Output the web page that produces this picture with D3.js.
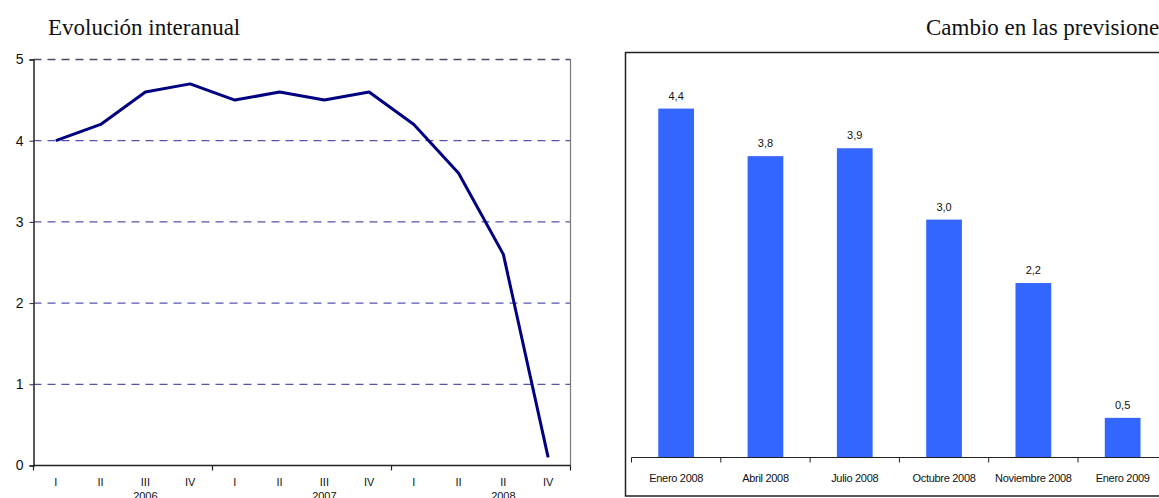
<!DOCTYPE html>
<html>
<head>
<meta charset="utf-8">
<script src="https://cdn.jsdelivr.net/npm/d3@7"></script>
<style>
  html, body { margin: 0; padding: 0; background: #fff; overflow: hidden; }
  svg { display: block; }
  .title { font-family: "Liberation Serif", "DejaVu Serif", serif; font-size: 23px; fill: #111; }
  .tick text { font-family: "Liberation Sans", Arial, sans-serif; }
</style>
</head>
<body>
<svg id="chart" width="1159" height="498"></svg>
<script>
// Year-on-year growth by quarter
const quarters = ["I", "II", "III", "IV", "I", "II", "III", "IV", "I", "II", "II", "IV"];
const years = ["2006", "2007", "2008"];
const growth = [4.0, 4.2, 4.6, 4.7, 4.5, 4.6, 4.5, 4.6, 4.2, 3.6, 2.6, 0.1];
const growthTicks = [0, 1, 2, 3, 4, 5];

// Forecast revisions
const forecastDates = ["Enero 2008", "Abril 2008", "Julio 2008", "Octubre 2008", "Noviembre 2008", "Enero 2009"];
const forecastValues = [4.4, 3.8, 3.9, 3.0, 2.2, 0.5];

const svg = d3.select("#chart");
const fmt = v => d3.format(".1f")(v).replace(".", ",");

// ---------- Left panel: line chart ----------
const L = { left: 33.5, right: 570.5, top: 59.5, bottom: 465.5 };
const xL = d3.scaleBand().domain(d3.range(quarters.length)).range([L.left, L.right]);
const yL = d3.scaleLinear().domain([0, 5]).range([L.bottom, L.top]);

svg.append("text").attr("class", "title").attr("x", 48).attr("y", 35).text("Evolución interanual");

const gL = svg.append("g");

// horizontal dashed gridlines
gL.selectAll("line.grid").data(growthTicks.filter(t => t > 0)).join("line")
  .attr("class", "grid")
  .attr("x1", L.left).attr("x2", L.right)
  .attr("y1", d => yL(d)).attr("y2", d => yL(d))
  .attr("stroke", d => d === 5 ? "#4a4a6a" : "#2a2a9a")
  .attr("stroke-width", d => d === 5 ? 1.5 : 1)
  .attr("stroke-dasharray", "8,6");

// right border
gL.append("line")
  .attr("x1", L.right).attr("x2", L.right)
  .attr("y1", L.top).attr("y2", L.bottom)
  .attr("stroke", "#777").attr("stroke-width", 1.2);

// y axis
const yAxisL = d3.axisLeft(yL).tickValues(growthTicks).tickSize(4).tickPadding(6).tickFormat(d3.format("d"));
gL.append("g").attr("transform", `translate(${L.left},0)`).call(yAxisL)
  .call(g => g.select(".domain").attr("stroke", "#222").attr("stroke-width", 1.5))
  .call(g => g.selectAll(".tick line").attr("stroke", "#222"))
  .call(g => g.selectAll(".tick text").attr("font-size", 14).attr("fill", "#111"));

// x axis: quarter labels, ticks at year boundaries
const xAxisG = gL.append("g").attr("transform", `translate(0,${L.bottom})`);
xAxisG.append("line").attr("x1", L.left).attr("x2", L.right).attr("y1", 0).attr("y2", 0)
  .attr("stroke", "#222").attr("stroke-width", 1.5);
const boundaries = d3.range(0, quarters.length + 1, 4).map(i => i < quarters.length ? xL(i) : L.right);
xAxisG.selectAll("line.yt").data(boundaries).join("line")
  .attr("class", "yt").attr("x1", d => d).attr("x2", d => d).attr("y1", 0).attr("y2", 5)
  .attr("stroke", "#222").attr("stroke-width", 1.2);
xAxisG.selectAll("text.q").data(quarters).join("text")
  .attr("class", "q")
  .attr("x", (d, i) => xL(i) + xL.bandwidth() / 2)
  .attr("y", 20)
  .attr("text-anchor", "middle")
  .attr("font-family", "Liberation Sans, Arial, sans-serif")
  .attr("font-size", 11).attr("fill", "#111")
  .text(d => d);
xAxisG.selectAll("text.yr").data(years).join("text")
  .attr("class", "yr")
  .attr("x", (d, i) => xL(i * 4 + 2) + xL.bandwidth() / 2)
  .attr("y", 34)
  .attr("text-anchor", "middle")
  .attr("font-family", "Liberation Sans, Arial, sans-serif")
  .attr("font-size", 11).attr("fill", "#111")
  .text(d => d);

// the growth line
const line = d3.line().x((d, i) => xL(i) + xL.bandwidth() / 2).y(d => yL(d));
gL.append("path").datum(growth)
  .attr("d", line)
  .attr("fill", "none")
  .attr("stroke", "#000080")
  .attr("stroke-width", 3)
  .attr("stroke-linejoin", "round");

// ---------- Right panel: bar chart ----------
const R = { boxLeft: 625.5, boxTop: 52.5, boxBottom: 496, axisLeft: 631.5, bandW: 89.3, base: 457.5 };
const xR = d3.scaleBand().domain(forecastDates)
  .range([R.axisLeft, R.axisLeft + R.bandW * forecastDates.length]).paddingInner(0.6).paddingOuter(0.3);
const yR = d3.scaleLinear().domain([0, 5]).range([R.base, R.base - 5 * 79.3]);

svg.append("text").attr("class", "title").attr("x", 926).attr("y", 35).text("Cambio en las previsiones");

const gR = svg.append("g");
// frame
gR.append("rect")
  .attr("x", R.boxLeft).attr("y", R.boxTop)
  .attr("width", 1200).attr("height", R.boxBottom - R.boxTop)
  .attr("fill", "none").attr("stroke", "#222").attr("stroke-width", 1.5);

// bars
gR.selectAll("rect.bar").data(forecastValues).join("rect")
  .attr("class", "bar")
  .attr("x", (d, i) => xR(forecastDates[i]))
  .attr("width", xR.bandwidth())
  .attr("y", d => yR(d))
  .attr("height", d => yR(0) - yR(d))
  .attr("fill", "#3366FF");

// value labels
gR.selectAll("text.val").data(forecastValues).join("text")
  .attr("class", "val")
  .attr("x", (d, i) => xR(forecastDates[i]) + xR.bandwidth() / 2)
  .attr("y", d => yR(d) - 9)
  .attr("text-anchor", "middle")
  .attr("font-family", "Liberation Sans, Arial, sans-serif")
  .attr("font-size", 11).attr("fill", "#111")
  .text(d => fmt(d));

// category axis
const xAxisR = gR.append("g").attr("transform", `translate(0,${R.base})`);
xAxisR.append("line").attr("x1", R.axisLeft).attr("x2", 1200).attr("y1", 0).attr("y2", 0)
  .attr("stroke", "#222").attr("stroke-width", 1.2);
xAxisR.selectAll("line.t").data(d3.range(forecastDates.length + 1)).join("line")
  .attr("class", "t")
  .attr("x1", i => R.axisLeft + i * R.bandW).attr("x2", i => R.axisLeft + i * R.bandW)
  .attr("y1", 0).attr("y2", 5)
  .attr("stroke", "#222").attr("stroke-width", 1);
xAxisR.selectAll("text.c").data(forecastDates).join("text")
  .attr("class", "c")
  .attr("x", d => xR(d) + xR.bandwidth() / 2)
  .attr("y", 24)
  .attr("text-anchor", "middle")
  .attr("font-family", "Liberation Sans, Arial, sans-serif")
  .attr("font-size", 11).attr("fill", "#111")
  .style("letter-spacing", "-0.3px")
  .text(d => d);
</script>
</body>
</html>
